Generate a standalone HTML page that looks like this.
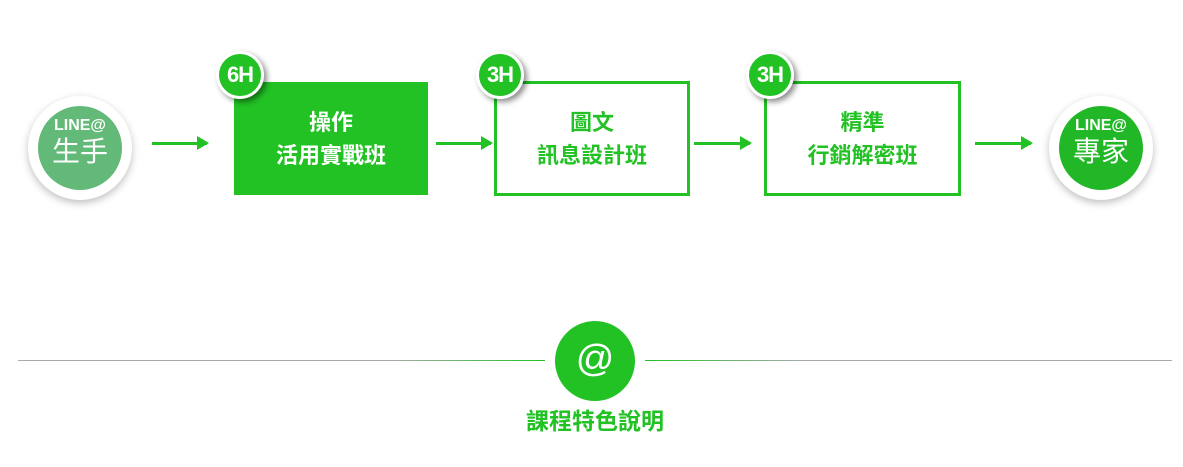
<!DOCTYPE html>
<html><head><meta charset="utf-8"><style>
body{margin:0;width:1183px;height:467px;background:#fff;position:relative;overflow:hidden;font-family:"Liberation Sans","Noto Sans CJK TC",sans-serif}
.a{position:absolute}
.circ{position:absolute;border-radius:50%;}
.outer{background:#fff;box-shadow:0 3px 8px rgba(0,0,0,.25)}
.inner{color:#fff;text-align:center;font-weight:bold}
.box{position:absolute;box-sizing:border-box;border:3px solid #22c124;color:#22c124;font-weight:bold;font-size:22px;line-height:33px;text-align:center;display:flex;align-items:center;justify-content:center}
.badge{position:absolute;width:48px;height:48px;border-radius:50%;background:#22c124;border:3px solid #fff;box-sizing:border-box;box-shadow:3px 3px 6px rgba(0,0,0,.45);color:#fff;font-weight:bold;font-size:22px;line-height:42px;text-align:center;letter-spacing:-1px}
.arr{position:absolute;height:3px;background:#22c124}
.arr:after{content:"";position:absolute;right:-2px;top:-6px;border-left:12px solid #22c124;border-top:7.5px solid transparent;border-bottom:7.5px solid transparent}
</style></head><body>
<div class="circ outer" style="left:28px;top:96px;width:104px;height:104px"></div>
<div class="circ inner" style="left:38px;top:106px;width:84px;height:84px;background:#63b978"><div style="font-size:16px;margin-top:11px">LINE@</div><div style="font-size:28px;font-weight:normal;line-height:34px">生手</div></div>
<div class="circ outer" style="left:1049px;top:96px;width:104px;height:104px"></div>
<div class="circ inner" style="left:1059px;top:106px;width:84px;height:84px;background:#22b726"><div style="font-size:16px;margin-top:11px">LINE@</div><div style="font-size:28px;font-weight:normal;line-height:34px">專家</div></div>

<div class="arr" style="left:152px;top:142px;width:55px"></div>
<div class="arr" style="left:436px;top:142px;width:55px"></div>
<div class="arr" style="left:694px;top:142px;width:56px"></div>
<div class="arr" style="left:975px;top:142px;width:56px"></div>

<div class="box" style="left:234px;top:82px;width:194px;height:113px;background:#22c124;color:#fff;border:none">操作<br>活用實戰班</div>
<div class="box" style="left:494px;top:81px;width:196px;height:115px">圖文<br>訊息設計班</div>
<div class="box" style="left:764px;top:81px;width:197px;height:115px">精準<br>行銷解密班</div>
<div class="badge" style="left:216px;top:51px">6H</div>
<div class="badge" style="left:476px;top:51px">3H</div>
<div class="badge" style="left:746px;top:51px">3H</div>

<div class="a" style="left:18px;top:360px;width:527px;height:1px;background:linear-gradient(to right,#aaa 70%,#22c124)"></div>
<div class="a" style="left:645px;top:360px;width:527px;height:1px;background:linear-gradient(to left,#aaa 70%,#22c124)"></div>
<div class="circ" style="left:555px;top:321px;width:80px;height:80px;background:#22c124;color:#fff;text-align:center;font-size:38px;line-height:76px">@</div>
<div class="a" style="left:495px;top:402px;width:200px;text-align:center;color:#22c124;font-weight:bold;font-size:23px">課程特色說明</div>
</body></html>
